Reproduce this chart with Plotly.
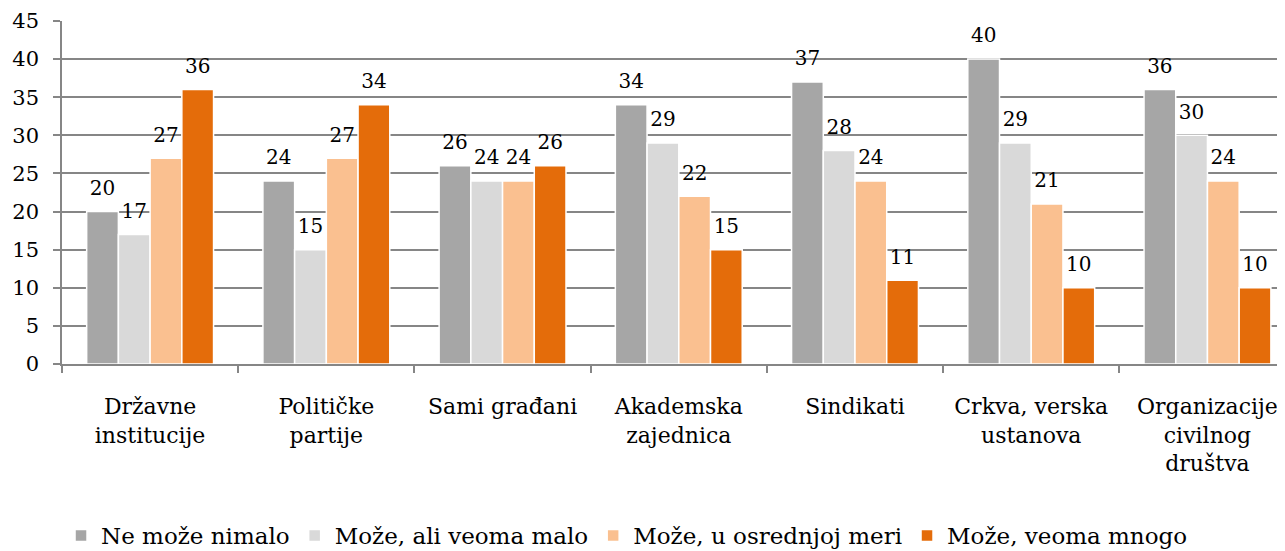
import plotly.graph_objects as go

categories = ["Državne<br>institucije", "Političke<br>partije", "Sami građani",
              "Akademska<br>zajednica", "Sindikati", "Crkva, verska<br>ustanova",
              "Organizacije<br>civilnog<br>društva"]
series_names = ["Ne može nimalo", "Može, ali veoma malo", "Može, u osrednjoj meri", "Može, veoma mnogo"]
ne_moze = [20, 24, 26, 34, 37, 40, 36]
malo = [17, 15, 24, 29, 28, 29, 30]
osrednje = [27, 27, 24, 22, 24, 21, 24]
mnogo = [36, 34, 26, 15, 11, 10, 10]
colors = ["#A6A6A6", "#D9D9D9", "#FAC090", "#E46C0A"]
y_ticks = [0, 5, 10, 15, 20, 25, 30, 35, 40, 45]

FONT = "DejaVu Serif"
GRID = "#868686"

fig = go.Figure()
all_series = [ne_moze, malo, osrednje, mnogo]
for i, (name, vals, col) in enumerate(zip(series_names, all_series, colors)):
    fig.add_trace(go.Bar(
        x=categories, y=vals, name=name, offsetgroup=str(i),
        marker=dict(color=col, line=dict(color="white", width=1.5)),
    ))
for i, vals in enumerate(all_series):
    fig.add_trace(go.Scatter(
        x=categories, y=vals, mode="markers+text", offsetgroup=str(i),
        marker=dict(size=17, color="rgba(0,0,0,0)"),
        text=[str(v) for v in vals], textposition="top center",
        textfont=dict(family=FONT, size=20, color="black"),
        showlegend=False, hoverinfo="skip", cliponaxis=False,
    ))

# page has an 8px body margin, so the figure is made 8px smaller each way
fig.update_layout(
    width=1277, height=543,
    margin=dict(l=54, r=0, t=13, b=187, autoexpand=False),
    paper_bgcolor="white", plot_bgcolor="white",
    barmode="group", bargap=0.28, bargroupgap=0, scattermode="group",
    font=dict(family=FONT, size=20, color="black"),
    showlegend=True,
    legend=dict(orientation="h", x=0.462, xanchor="center", y=-0.5, yanchor="middle",
                font=dict(family=FONT, size=23, color="black"),
                itemwidth=30, traceorder="normal"),
)
fig.update_xaxes(
    range=[-0.5, 6.44], showgrid=False, showline=True, linecolor=GRID, linewidth=1.5,
    ticks="outside", tickson="boundaries", ticklen=7, tickcolor=GRID, tickwidth=1.5,
    tickfont=dict(family=FONT, size=22, color="black"), automargin=False,
    ticklabelstandoff=22,
)
fig.update_yaxes(
    range=[0, 45], tickvals=y_ticks, showgrid=True, gridcolor=GRID, gridwidth=1.5,
    showline=True, linecolor=GRID, linewidth=1.5, zeroline=False,
    ticks="outside", ticklen=7, tickcolor=GRID, tickwidth=1.5,
    tickfont=dict(family=FONT, size=21, color="black"), automargin=False,
    ticklabelstandoff=10,
)

fig.write_html("out.html")
